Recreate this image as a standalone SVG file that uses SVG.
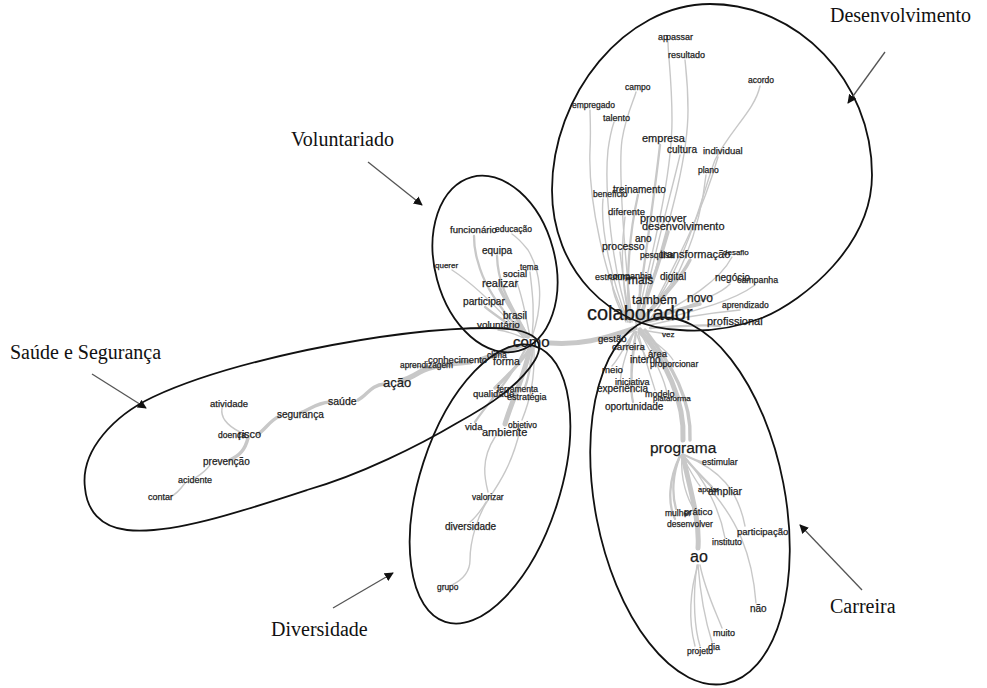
<svg xmlns="http://www.w3.org/2000/svg" width="987" height="688" viewBox="0 0 987 688">
<defs>
<marker id="ah" viewBox="0 0 10 10" refX="9" refY="5" markerWidth="9" markerHeight="9" markerUnits="userSpaceOnUse" orient="auto">
<path d="M0,0 L10,5 L0,10 Z" fill="#111"/>
</marker>
<style>
.e{fill:none;stroke:#c8c8c8;stroke-linecap:round}
.t1{stroke-width:1.4}.t2{stroke-width:2.3}.t3{stroke-width:3.4}.t4{stroke-width:5}
.cl{fill:none;stroke:#111;stroke-width:1.8}
.w{font-family:"Liberation Sans",Arial,sans-serif;fill:#151515;stroke:#2a2a2a;stroke-width:0.25}
.lb{font-family:"Liberation Serif","Times New Roman",serif;font-size:20px;fill:#111}
.ar{stroke:#555;stroke-width:1.3;marker-end:url(#ah)}
</style>
</defs>
<rect width="987" height="688" fill="#fff"/>

<g id="connectors">
<path class="e t1" d="M636,325 C650,260 672,180 672,120 C672,80 668,55 668,42"/>
<path class="e t1" d="M640,325 C660,250 688,170 688,110 C688,85 686,70 685,60"/>
<path class="e t1" d="M632,322 C625,260 618,170 622,140 C626,115 634,100 636,92"/>
<path class="e t1" d="M628,322 C605,280 588,200 590,150 C591,130 590,118 590,110"/>
<path class="e t1" d="M630,322 C612,270 604,190 608,150 C610,135 612,128 614,122"/>
<path class="e t1" d="M642,322 C690,260 700,200 715,160 C730,130 755,110 760,86"/>
<path class="e t2" d="M636,322 C645,260 655,190 660,145"/>
<path class="e t1" d="M640,322 C655,250 672,190 680,155"/>
<path class="e t1" d="M645,322 C672,270 700,220 718,157"/>
<path class="e t1" d="M648,322 C680,280 700,230 706,175"/>
<path class="e t2" d="M630,322 C625,280 630,230 638,195"/>
<path class="e t1" d="M628,322 C612,280 600,230 603,199"/>
<path class="e t1" d="M630,322 C620,280 622,240 625,217"/>
<path class="e t3" d="M638,322 C650,290 660,260 668,232"/>
<path class="e t1" d="M630,322 C625,290 622,270 620,252"/>
<path class="e t3" d="M640,322 C660,300 680,280 690,260"/>
<path class="e t1" d="M645,322 C690,300 720,280 732,257"/>
<path class="e t2" d="M636,322 C640,300 640,295 640,285"/>
<path class="e t1" d="M640,322 C655,300 668,290 672,282"/>
<path class="e t1" d="M626,322 C615,300 612,290 612,281"/>
<path class="e t1" d="M648,322 C690,305 720,295 730,284"/>
<path class="e t1" d="M650,322 C700,310 735,300 755,285"/>
<path class="e t3" d="M645,322 C670,312 690,306 700,304"/>
<path class="e t1" d="M650,325 C690,315 720,312 740,310"/>
<path class="e t2" d="M650,328 C690,325 710,325 720,326"/>
<path class="e t4" d="M550,343 C580,345 600,340 635,328"/>
<path class="e t4" d="M640,330 C665,360 685,400 683,440"/>
<path class="e t3" d="M645,330 C672,365 692,400 690,440"/>
<path class="e t1" d="M635,330 C625,335 618,338 613,340"/>
<path class="e t1" d="M635,332 C630,338 628,344 628,348"/>
<path class="e t1" d="M638,332 C645,340 655,350 657,352"/>
<path class="e t1" d="M636,332 C640,345 645,355 646,358"/>
<path class="e t1" d="M640,332 C660,345 670,355 673,360"/>
<path class="e t1" d="M634,332 C625,345 618,360 612,366"/>
<path class="e t1" d="M636,332 C632,350 630,370 632,378"/>
<path class="e t1" d="M634,332 C625,355 620,375 620,386"/>
<path class="e t1" d="M638,332 C645,360 652,380 655,390"/>
<path class="e t1" d="M640,332 C655,360 665,380 667,394"/>
<path class="e t2" d="M636,332 C632,360 630,390 633,402"/>
<path class="e t1" d="M640,330 C655,332 662,333 666,334"/>
<path class="e t1" d="M685,455 C695,460 700,462 704,462"/>
<path class="e t2" d="M683,456 C695,470 705,480 712,487"/>
<path class="e t1" d="M682,456 C690,470 695,480 700,486"/>
<path class="e t2" d="M680,456 C672,475 672,495 676,509"/>
<path class="e t1" d="M682,456 C680,480 688,500 694,509"/>
<path class="e t2" d="M680,456 C668,480 668,505 675,519"/>
<path class="e t1" d="M686,456 C720,470 738,490 745,526"/>
<path class="e t1" d="M684,456 C705,480 720,510 725,538"/>
<path class="e t4" d="M683,456 C690,490 700,520 698,548"/>
<path class="e t1" d="M698,565 C690,590 688,620 695,646"/>
<path class="e t1" d="M698,565 C700,590 705,620 712,642"/>
<path class="e t1" d="M700,565 C705,590 715,610 722,628"/>
<path class="e t1" d="M697,565 C692,600 695,630 700,646"/>
<path class="e t1" d="M715,495 C735,520 752,550 756,603"/>
<path class="e t2" d="M527,337 C505,315 485,290 478,262 C474,250 474,240 474,236"/>
<path class="e t1" d="M532,337 C545,300 540,270 528,250 C520,240 515,236 512,234"/>
<path class="e t2" d="M528,337 C515,310 498,290 497,256"/>
<path class="e t1" d="M524,338 C500,310 475,285 452,270"/>
<path class="e t1" d="M532,337 C535,310 532,290 530,272"/>
<path class="e t1" d="M530,337 C525,310 520,290 516,280"/>
<path class="e t3" d="M528,337 C515,315 505,300 500,289"/>
<path class="e t2" d="M526,337 C510,325 495,315 485,307"/>
<path class="e t1" d="M528,337 C522,330 518,325 515,321"/>
<path class="e t1" d="M524,338 C515,334 505,331 498,330"/>
<path class="e t4" d="M530,348 C525,375 512,400 505,424"/>
<path class="e t2" d="M526,348 C510,380 490,400 475,422"/>
<path class="e t1" d="M534,348 C535,380 530,400 522,420"/>
<path class="e t3" d="M530,348 C520,365 505,378 495,388"/>
<path class="e t2" d="M533,348 C530,370 528,380 525,387"/>
<path class="e t1" d="M495,437 C480,460 485,480 488,492"/>
<path class="e t1" d="M520,430 C512,465 498,485 488,500 C478,515 470,540 470,560 C470,575 458,582 452,585"/>
<path class="e t1" d="M486,502 C480,512 475,518 470,522"/>
<path class="e t4" d="M522,345 C505,352 490,356 480,360"/>
<path class="e t4" d="M470,362 C450,364 430,366 420,372 C410,378 405,380 400,381"/>
<path class="e t1" d="M440,365 C430,366 420,367 412,366"/>
<path class="e t3" d="M385,384 C370,385 368,395 358,400"/>
<path class="e t3" d="M330,402 C315,403 310,410 300,413"/>
<path class="e t3" d="M280,416 C270,420 265,430 258,434"/>
<path class="e t1" d="M222,408 C220,420 232,428 240,432"/>
<path class="e t3" d="M248,438 C245,450 240,455 230,460"/>
<path class="e t1" d="M210,465 C205,472 200,475 195,478"/>
<path class="e t1" d="M185,483 C180,490 175,495 170,497"/>
</g>

<g id="clusters">
<path id="c-desenvolvimento" class="cl" d="M710,4 C797,4 872,80 872,175 C872,245 805,300 762,318 C735,328 705,332 680,330 C610,328 552,270 552,190 C552,95 625,4 710,4 Z"/>
<ellipse id="c-voluntariado" class="cl" cx="495" cy="264" rx="60" ry="90" transform="rotate(-15 495 264)"/>
<path id="c-saude" class="cl" d="M85,488 C80,450 115,415 153,397 C200,375 260,360 307,350 C380,335 440,328 490,328 C530,328 548,338 535,360 C520,385 490,405 457,423 C420,445 360,475 307,490 C240,512 170,535 127,530 C100,527 87,510 85,488 Z"/>
<ellipse id="c-diversidade" class="cl" cx="490" cy="484" rx="70" ry="145" transform="rotate(18 490 484)"/>
<ellipse id="c-carreira" class="cl" cx="690" cy="501" rx="95" ry="186" transform="rotate(-11 690 501)"/>
</g>

<g id="labels">
<g id="l-desenvolvimento"><text class="lb" x="830" y="22">Desenvolvimento</text><line class="ar" x1="885" y1="52" x2="848" y2="103"/></g>
<g id="l-voluntariado"><text class="lb" x="291" y="146">Voluntariado</text><line class="ar" x1="368" y1="162" x2="422" y2="205"/></g>
<g id="l-saude"><text class="lb" x="10" y="359">Saúde e Segurança</text><line class="ar" x1="92" y1="374" x2="146" y2="408"/></g>
<g id="l-diversidade"><text class="lb" x="271" y="636" font-size="20.5">Diversidade</text><line class="ar" x1="333" y1="608" x2="393" y2="573"/></g>
<g id="l-carreira"><text class="lb" x="830" y="613" font-size="21">Carreira</text><line class="ar" x1="862" y1="590" x2="800" y2="525"/></g>
</g>

<g id="nodes" class="w">
<g id="n-apoiar0"><text x="658" y="40" font-size="9">ap</text></g>
<g id="n-passar"><text x="666" y="40" font-size="9">passar</text></g>
<g id="n-resultado"><text x="668" y="58" font-size="9">resultado</text></g>
<g id="n-campo"><text x="625" y="90" font-size="8.5">campo</text></g>
<g id="n-acordo"><text x="748" y="83" font-size="8.5">acordo</text></g>
<g id="n-empregado"><text x="572" y="108" font-size="8.5">empregado</text></g>
<g id="n-talento"><text x="603" y="121" font-size="9">talento</text></g>
<g id="n-empresa"><text x="642" y="142" font-size="11">empresa</text></g>
<g id="n-cultura"><text x="667" y="153" font-size="10">cultura</text></g>
<g id="n-individual"><text x="703" y="154" font-size="9.5">individual</text></g>
<g id="n-plano"><text x="698" y="173" font-size="8.5">plano</text></g>
<g id="n-beneficio"><text x="593" y="197" font-size="8.5">benefício</text></g>
<g id="n-treinamento"><text x="613" y="193" font-size="10">treinamento</text></g>
<g id="n-diferente"><text x="608" y="215" font-size="9.5">diferente</text></g>
<g id="n-promover"><text x="640" y="222" font-size="11">promover</text></g>
<g id="n-desenvolvimento"><text x="642" y="230" font-size="11">desenvolvimento</text></g>
<g id="n-ano"><text x="635" y="242" font-size="10">ano</text></g>
<g id="n-processo"><text x="602" y="250" font-size="10.5">processo</text></g>
<g id="n-pesquisa"><text x="640" y="258" font-size="8.5">pesquisa</text></g>
<g id="n-transformacao"><text x="660" y="258" font-size="11">transformação</text></g>
<g id="n-desafio"><text x="723" y="255" font-size="8">desafio</text></g>
<g id="n-estrutura"><text x="595" y="280" font-size="9">estrutura</text></g>
<g id="n-companhia"><text x="608" y="279" font-size="9">companhia</text></g>
<g id="n-mais"><text x="628" y="284" font-size="12">mais</text></g>
<g id="n-digital"><text x="660" y="280" font-size="10">digital</text></g>
<g id="n-negocio"><text x="715" y="281" font-size="10">negócio</text></g>
<g id="n-campanha"><text x="737" y="283" font-size="8.8">campanha</text></g>
<g id="n-tambem"><text x="632" y="304" font-size="12.5">também</text></g>
<g id="n-novo"><text x="687" y="302" font-size="12">novo</text></g>
<g id="n-aprendizado"><text x="722" y="308" font-size="8.5">aprendizado</text></g>
<g id="n-colaborador"><text x="587" y="320" font-size="20">colaborador</text></g>
<g id="n-profissional"><text x="707" y="325" font-size="11">profissional</text></g>
<g id="n-vez"><text x="662" y="337" font-size="8">vez</text></g>
<g id="n-gestao"><text x="598" y="342" font-size="9.5">gestão</text></g>
<g id="n-carreira"><text x="612" y="350" font-size="9.7">carreira</text></g>
<g id="n-area"><text x="648" y="357" font-size="9.5">área</text></g>
<g id="n-interno"><text x="630" y="363" font-size="10">interno</text></g>
<g id="n-proporcionar"><text x="650" y="367" font-size="8.6">proporcionar</text></g>
<g id="n-meio"><text x="602" y="373" font-size="9.7">meio</text></g>
<g id="n-iniciativa"><text x="615" y="385" font-size="9">iniciativa</text></g>
<g id="n-experiencia"><text x="597" y="392" font-size="10">experiência</text></g>
<g id="n-modelo"><text x="645" y="397" font-size="9">modelo</text></g>
<g id="n-plataforma"><text x="653" y="401" font-size="8">plataforma</text></g>
<g id="n-oportunidade"><text x="605" y="410" font-size="10">oportunidade</text></g>
<g id="n-programa"><text x="650" y="453" font-size="15.5">programa</text></g>
<g id="n-estimular"><text x="702" y="465" font-size="8.8">estimular</text></g>
<g id="n-apoiar"><text x="698" y="492" font-size="7.5">apoiar</text></g>
<g id="n-ampliar"><text x="708" y="495" font-size="10.4">ampliar</text></g>
<g id="n-mulher"><text x="665" y="516" font-size="8.5">mulher</text></g>
<g id="n-pratico"><text x="684" y="515" font-size="9.5">prático</text></g>
<g id="n-desenvolver"><text x="667" y="527" font-size="8.5">desenvolver</text></g>
<g id="n-participacao"><text x="737" y="535" font-size="9.5">participação</text></g>
<g id="n-instituto"><text x="712" y="545" font-size="8.7">instituto</text></g>
<g id="n-ao"><text x="690" y="562" font-size="16">ao</text></g>
<g id="n-nao"><text x="750" y="612" font-size="10">não</text></g>
<g id="n-muito"><text x="713" y="636" font-size="9">muito</text></g>
<g id="n-dia"><text x="708" y="650" font-size="9">dia</text></g>
<g id="n-projeto"><text x="687" y="654" font-size="8.5">projeto</text></g>
<g id="n-funcionario"><text x="450" y="233" font-size="9.6">funcionário</text></g>
<g id="n-educacao"><text x="495" y="232" font-size="8.5">educação</text></g>
<g id="n-equipa"><text x="482" y="254" font-size="10">equipa</text></g>
<g id="n-querer"><text x="435" y="268" font-size="8">querer</text></g>
<g id="n-tema"><text x="520" y="270" font-size="8.2">tema</text></g>
<g id="n-social"><text x="503" y="277" font-size="9.4">social</text></g>
<g id="n-realizar"><text x="482" y="287" font-size="11">realizar</text></g>
<g id="n-participar"><text x="463" y="305" font-size="10.2">participar</text></g>
<g id="n-brasil"><text x="503" y="319" font-size="10">brasil</text></g>
<g id="n-voluntario"><text x="477" y="328" font-size="9.9">voluntário</text></g>
<g id="n-como"><text x="513" y="347" font-size="15">como</text></g>
<g id="n-clima"><text x="487" y="358" font-size="8.5">clima</text></g>
<g id="n-conhecimento"><text x="428" y="363" font-size="9.5">conhecimento</text></g>
<g id="n-forma"><text x="493" y="365" font-size="10.5">forma</text></g>
<g id="n-aprendizagem"><text x="400" y="368" font-size="8.4">aprendizagem</text></g>
<g id="n-acao"><text x="383" y="387" font-size="13">ação</text></g>
<g id="n-saude"><text x="328" y="405" font-size="10.5">saúde</text></g>
<g id="n-seguranca"><text x="277" y="418" font-size="10">segurança</text></g>
<g id="n-atividade"><text x="210" y="407" font-size="9.5">atividade</text></g>
<g id="n-doenca"><text x="218" y="438" font-size="8.5">doença</text></g>
<g id="n-risco"><text x="238" y="438" font-size="11">risco</text></g>
<g id="n-prevencao"><text x="203" y="465" font-size="10">prevenção</text></g>
<g id="n-acidente"><text x="178" y="483" font-size="9">acidente</text></g>
<g id="n-contar"><text x="148" y="500" font-size="9">contar</text></g>
<g id="n-ferramenta"><text x="497" y="392" font-size="8.5">ferramenta</text></g>
<g id="n-qualidade"><text x="473" y="397" font-size="9.5">qualidade</text></g>
<g id="n-estrategia"><text x="507" y="400" font-size="9">estratégia</text></g>
<g id="n-vida"><text x="465" y="430" font-size="9.5">vida</text></g>
<g id="n-objetivo"><text x="508" y="428" font-size="8.4">objetivo</text></g>
<g id="n-ambiente"><text x="482" y="436" font-size="11">ambiente</text></g>
<g id="n-valorizar"><text x="472" y="500" font-size="8.4">valorizar</text></g>
<g id="n-diversidade"><text x="445" y="530" font-size="10">diversidade</text></g>
<g id="n-grupo"><text x="437" y="590" font-size="8.4">grupo</text></g>
</g>
</svg>
